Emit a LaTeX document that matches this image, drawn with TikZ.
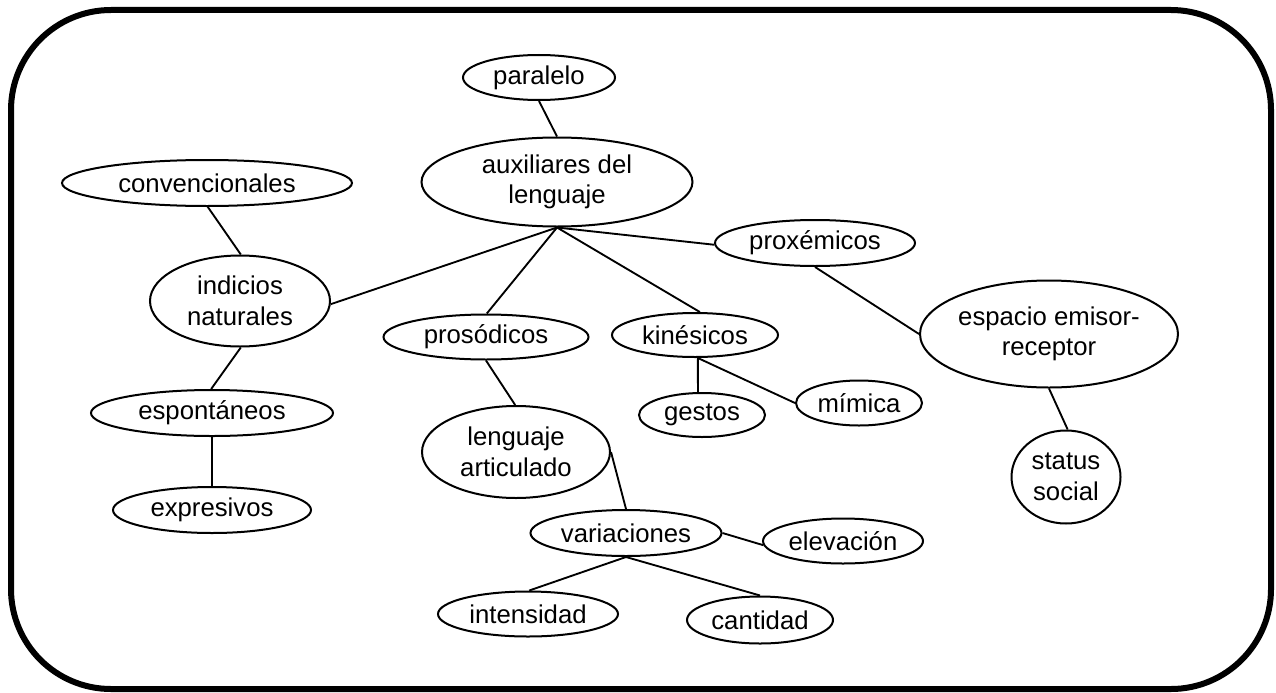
\documentclass[tikz,border=0pt]{standalone}
\usepackage{fontspec}
\setmainfont{Liberation Sans}
\usetikzlibrary{shapes.geometric}
\begin{document}
\begin{tikzpicture}[x=0.75pt,y=-0.75pt,
  el/.style 2 args={ellipse, draw, line width=1.5pt, inner sep=0pt,
    minimum width={#1*0.75pt}, minimum height={#2*0.75pt},
    align=center, font=\fontsize{19.3pt}{23pt}\selectfont},
  conn/.style={line width=1.4pt},
  frame/.style={line width=4.5pt, rounded corners=75pt}]
\useasboundingbox (0,0) rectangle (1276,692);
\draw[frame] (11,10) rectangle (1271,689);

\node[el={152}{45}] (par) at (539,77.5) {paralelo};
\node[el={271}{89}] (aux) at (557,182) {auxiliares del\\lenguaje};
\node[el={290}{46}] (conv) at (207,183) {convencionales};
\node[el={180}{91}] (ind) at (240,301) {indicios\\naturales};
\node[el={200}{46}] (prox) at (815,243) {proxémicos};
\node[el={205}{45}] (pros) at (486,337) {prosódicos};
\node[el={166}{44}] (kin) at (695,335) {kinésicos};
\node[el={258}{107}] (esp) at (1049,334) {espacio emisor-\\receptor};
\node[el={242}{46}] (espo) at (212,413) {espontáneos};
\node[el={126}{44}] (ges) at (702,415) {gestos};
\node[el={126}{45}] (mim) at (859,403) {mímica};
\node[el={188}{92}] (len) at (516,452) {lenguaje\\articulado};
\node[el={109}{93}] (stat) at (1066,477) {status\\social};
\node[el={198}{46}] (expr) at (212,510) {expresivos};
\node[el={191}{46}] (var) at (626,533) {variaciones};
\node[el={160}{45}] (elev) at (843,541) {elevación};
\node[el={180}{45}] (int) at (528,614) {intensidad};
\node[el={146}{47}] (cant) at (760,620) {cantidad};

\draw[conn] (par.south) -- (aux.north);
\draw[conn] (conv.-88) -- (ind.89);
\draw[conn] (aux.south) -- (ind.-2);
\draw[conn] (aux.south) -- (pros.88);
\draw[conn] (aux.south) -- (kin.78);
\draw[conn] (aux.south) -- (prox.181);
\draw[conn] (prox.south) -- (esp.west);
\draw[conn] (ind.-89) -- (espo.92);
\draw[conn] (espo.south) -- (expr.north);
\draw[conn] (pros.south) -- (len.91);
\draw[conn] (kin.-83) -- (ges.100);
\draw[conn] (kin.-83) -- (mim.west);
\draw[conn] (len.east) -- (var.north);
\draw[conn] (var.east) -- (elev.183);
\draw[conn] (var.south) -- (int.87);
\draw[conn] (var.south) -- (cant.north);
\draw[conn] (esp.south) -- (stat.88);
\end{tikzpicture}
\end{document}
